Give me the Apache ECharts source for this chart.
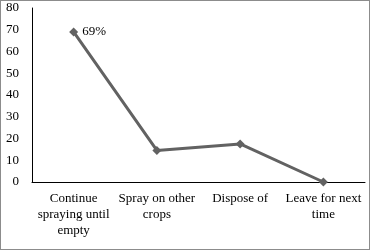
<!DOCTYPE html>
<html>
<head>
<meta charset="utf-8">
<script src="https://cdn.jsdelivr.net/npm/echarts@6/dist/echarts.min.js"></script>
<style>
  html, body { margin: 0; padding: 0; background: #fff; }
  #chart { width: 368px; height: 248px; border: 1px solid #8c8c8c; }
</style>
</head>
<body>
<div id="chart"></div>
<script>
  // categories and values
  var categories = ['Continue\nspraying until\nempty', 'Spray on other\ncrops', 'Dispose of', 'Leave for next\ntime']
  var values = [69, 14.5, 17.5, 0]
  var pointLabels = ['69%', '', '', '']

  var fontColor = '#000'
  var lineColor = '#626262'

  var myChart = echarts.init(document.getElementById('chart'))

  var option = {
    animation: false,
    grid: {
      left: 31,
      right: 4,
      top: 7,
      bottom: 67
    },
    xAxis: {
      type: 'category',
      boundaryGap: true,
      data: categories,
      axisLine: { lineStyle: { color: '#000', width: 1 } },
      axisTick: { show: false },
      axisLabel: {
        color: fontColor,
        fontFamily: 'Liberation Serif',
        fontSize: 13,
        lineHeight: 16,
        margin: 9,
        interval: 0
      }
    },
    yAxis: {
      type: 'value',
      min: 0,
      max: 80,
      interval: 10,
      axisLine: { show: true, lineStyle: { color: '#000', width: 1 } },
      axisTick: { show: false },
      splitLine: { show: false },
      axisLabel: {
        color: fontColor,
        fontFamily: 'Liberation Serif',
        fontSize: 13,
        margin: 13
      }
    },
    series: [{
      type: 'line',
      data: values,
      symbol: 'diamond',
      symbolSize: 9,
      itemStyle: { color: lineColor },
      lineStyle: { color: lineColor, width: 3 },
      label: {
        show: true,
        position: 'right',
        distance: 4,
        color: fontColor,
        fontFamily: 'Liberation Serif',
        fontSize: 13,
        formatter: function (p) { return pointLabels[p.dataIndex] }
      }
    }]
  }

  myChart.setOption(option, true)
</script>
</body>
</html>
